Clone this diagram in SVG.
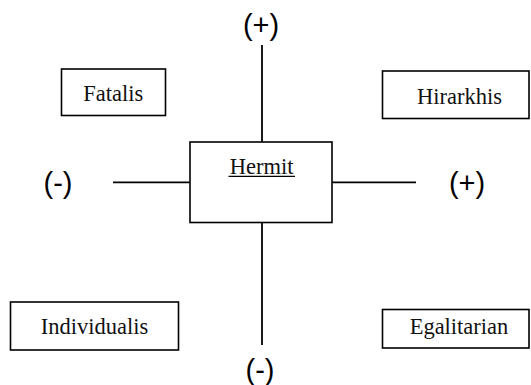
<svg xmlns="http://www.w3.org/2000/svg" width="531" height="385" viewBox="0 0 531 385">
<style>
.box{fill:#fff;stroke:#000;stroke-width:1.6}
.lbl{font-family:"Liberation Serif","Times New Roman",serif;font-size:22.5px;fill:#111;text-anchor:middle}
.sgn{font-family:"Liberation Sans",Arial,sans-serif;font-size:29px;fill:#000;text-anchor:middle}
.ln{stroke:#000;stroke-width:1.8;fill:none}
</style>
<rect width="531" height="385" fill="#fff"/>
<g id="connectors">
<line class="ln" x1="262" y1="45" x2="262" y2="142"/>
<line class="ln" x1="262" y1="222.5" x2="262" y2="345"/>
<line class="ln" x1="113" y1="182.3" x2="190" y2="182.3"/>
<line class="ln" x1="332" y1="182.3" x2="416" y2="182.3"/>
</g>
<g id="hermit">
<rect class="box" x="190" y="142" width="142" height="80.5"/>
<text class="lbl" x="261.7" y="174">Hermit</text>
<line x1="228.5" y1="176.3" x2="295" y2="176.3" stroke="#000" stroke-width="1.3"/>
</g>
<g id="fatalis">
<rect class="box" x="61.5" y="69" width="104" height="46.5"/>
<text class="lbl" x="113.3" y="101">Fatalis</text>
</g>
<g id="hirarkhis">
<rect class="box" x="382.5" y="71" width="146.5" height="47.5"/>
<text class="lbl" x="459.5" y="103.5">Hirarkhis</text>
</g>
<g id="individualis">
<rect class="box" x="10.5" y="302" width="168" height="48"/>
<text class="lbl" x="94.6" y="334">Individualis</text>
</g>
<g id="egalitarian">
<rect class="box" x="382.5" y="309.5" width="146.5" height="38.5"/>
<text class="lbl" x="459" y="333.5">Egalitarian</text>
</g>
<g id="signs">
<text class="sgn" x="261" y="34.5">(+)</text>
<text class="sgn" x="58" y="193">(-)</text>
<text class="sgn" x="467" y="193">(+)</text>
<text class="sgn" x="260" y="380">(-)</text>
</g>
</svg>
